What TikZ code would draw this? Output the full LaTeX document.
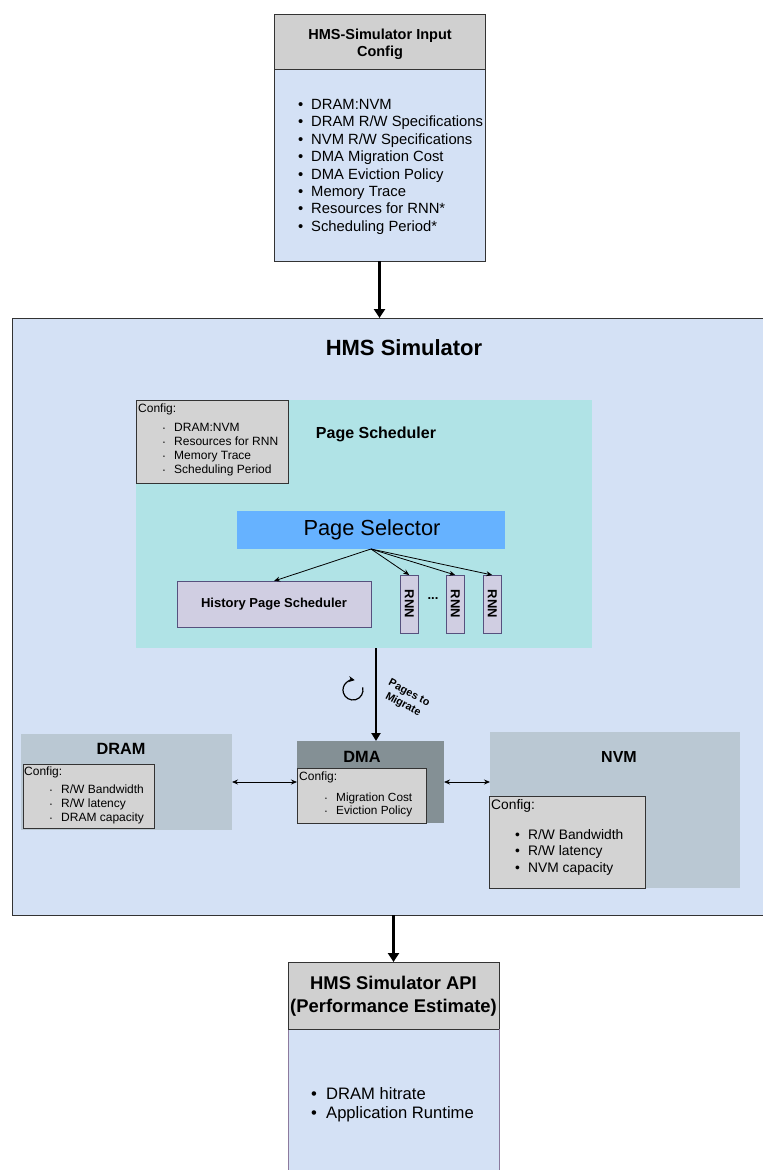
\documentclass[tikz,border=0pt]{standalone}
\usepackage{fontspec}
\setmainfont{Liberation Sans}
\usetikzlibrary{arrows.meta}

\definecolor{hdrgrey}{HTML}{D0D0D0}
\definecolor{cfggrey}{HTML}{D3D3D3}
\definecolor{bodyblue}{HTML}{D4E1F5}
\definecolor{schedteal}{HTML}{B0E3E6}
\definecolor{selblue}{HTML}{66B2FF}
\definecolor{memgrey}{HTML}{BAC8D3}
\definecolor{dmagrey}{HTML}{849095}
\definecolor{lilac}{HTML}{D0CEE2}
\definecolor{lilacedge}{HTML}{56517E}
\definecolor{apiedge}{HTML}{8C7A9E}
\definecolor{edgedark}{HTML}{333333}

% bullet helpers
\newcommand{\bigbul}[2][11pt]{\makebox[#1][l]{\textbullet}#2}
\newcommand{\tinybul}[1]{\makebox[11pt][l]{\raisebox{0.15ex}{\scalebox{0.45}{\textbullet}}}#1}

\begin{document}
\begin{tikzpicture}[x=1pt,y=-1pt,
  rect/.style={draw=edgedark, line width=0.8pt, anchor=north west, inner sep=0pt, outer sep=0pt},
  area/.style={draw=none, anchor=north west, inner sep=0pt, outer sep=0pt},
  linetxt/.style={anchor=base west, inner sep=0pt},
  heavyarrow/.style={line width=3pt, -{Triangle[length=9pt,width=11pt]}},
  midarrow/.style={line width=2pt, -{Triangle[length=8pt,width=9pt]}},
  thinarrow/.style={line width=0.8pt, -{Stealth[length=6pt,width=5pt]}},
  bothway/.style={line width=0.8pt, {Stealth[length=6pt,width=5pt]}-{Stealth[length=6pt,width=5pt]}}
]
\useasboundingbox (0,0) rectangle (763,1170);

% ---------- input configuration ----------
\node[rect, fill=hdrgrey, minimum width=211pt, minimum height=55pt] (inhdr) at (274,14) {};
\node[font=\bfseries\fontsize{14.5}{17}\selectfont, align=center] (inhdrtxt) at (380,44.5) {HMS-Simulator Input\\Config};
\node[rect, fill=bodyblue, minimum width=211pt, minimum height=192pt] (inbody) at (274,69) {};
\foreach \t [count=\i from 0] in {DRAM:NVM, DRAM R/W Specifications, NVM R/W Specifications,
    DMA Migration Cost, DMA Eviction Policy, Memory Trace, Resources for RNN*, Scheduling Period*}
  \node[linetxt, font=\fontsize{14.8}{17}\selectfont] (in-\i) at (298,109.3+17.43*\i) {\bigbul[13pt]{\t}};

% ---------- simulator ----------
\node[rect, fill=bodyblue, minimum width=752pt, minimum height=597pt] (sim) at (12,318) {};
\node[font=\bfseries\fontsize{22}{26}\selectfont] (simtxt) at (404,348) {HMS Simulator};
\draw[heavyarrow] (inbody.south) -- (sim.north -| inbody.south);

% page scheduler
\node[area, fill=schedteal, minimum width=456pt, minimum height=248pt] (sched) at (136,400) {};
\node[rect, fill=cfggrey, minimum width=152pt, minimum height=83pt] (schedcfg) at (136,400) {};
\node[linetxt, font=\fontsize{12}{14}\selectfont] (schedcfgtxt) at (138,412.3) {Config:};
\foreach \t [count=\i from 0] in {DRAM:NVM, Resources for RNN, Memory Trace, Scheduling Period}
  \node[linetxt, font=\fontsize{12}{14}\selectfont] (sc-\i) at (163,431.3+14*\i) {\tinybul{\t}};
\node[font=\bfseries\fontsize{16}{19}\selectfont] (schedtxt) at (376,434) {Page Scheduler};

\node[area, fill=selblue, minimum width=268pt, minimum height=38pt] (sel) at (237,511) {};
\node[font=\fontsize{21.8}{25}\selectfont] (seltxt) at (372,530) {Page Selector};

\node[rect, draw=lilacedge, fill=lilac, minimum width=194pt, minimum height=46pt] (hist) at (177,581) {};
\node[font=\bfseries\fontsize{13}{15}\selectfont] (histtxt) at (hist) {History Page Scheduler};

\node[rect, draw=lilacedge, fill=lilac, minimum width=18.5pt, minimum height=58pt] (rnna) at (400,575) {};
\node[rect, draw=lilacedge, fill=lilac, minimum width=18.5pt, minimum height=58pt] (rnnb) at (446,575) {};
\node[rect, draw=lilacedge, fill=lilac, minimum width=18.5pt, minimum height=58pt] (rnnc) at (483,575) {};
\foreach \r in {rnna,rnnb,rnnc}
  \node[rotate=-90, font=\bfseries\fontsize{13}{15}\selectfont] (\r-txt) at (\r) {RNN};
\node[font=\bfseries\fontsize{13}{15}\selectfont] (dots) at (433,599) {...};

\draw[thinarrow] (sel.south) -- (hist.north);
\draw[thinarrow] (sel.south) -- (rnna.north);
\draw[thinarrow] (sel.south) -- (rnnb.north);
\draw[thinarrow] (sel.south) -- (rnnc.north);

% memories and DMA
\node[area, fill=memgrey, minimum width=211pt, minimum height=96pt] (dram) at (21,734) {};
\node[font=\bfseries\fontsize{16.3}{19}\selectfont] (dramtxt) at (121,749) {DRAM};
\node[rect, fill=cfggrey, minimum width=131pt, minimum height=64pt] (dramcfg) at (23,764) {};
\node[linetxt, font=\fontsize{12}{14}\selectfont] (dramcfgtxt) at (24,775.3) {Config:};
\foreach \t [count=\i from 0] in {R/W Bandwidth, R/W latency, DRAM capacity}
  \node[linetxt, font=\fontsize{12}{14}\selectfont] (dc-\i) at (50,793.3+14*\i) {\tinybul{\t}};

\node[area, fill=dmagrey, minimum width=147pt, minimum height=82pt] (dma) at (297,741) {};
\node[font=\bfseries\fontsize{16.3}{19}\selectfont] (dmatxt) at (362,757) {DMA};
\node[rect, fill=cfggrey, minimum width=129pt, minimum height=55pt] (dmacfg) at (297,768) {};
\node[linetxt, font=\fontsize{12}{14}\selectfont] (dmacfgtxt) at (299,780.5) {Config:};
\foreach \t [count=\i from 0] in {Migration Cost, Eviction Policy}
  \node[linetxt, font=\fontsize{11.8}{14}\selectfont] (mc-\i) at (325,801.2+13.3*\i) {\tinybul{\t}};

\node[area, fill=memgrey, minimum width=250pt, minimum height=156pt] (nvm) at (490,732) {};
\node[font=\bfseries\fontsize{16}{19}\selectfont] (nvmtxt) at (619,757) {NVM};
\node[rect, fill=cfggrey, minimum width=156pt, minimum height=92pt] (nvmcfg) at (489,796) {};
\node[linetxt, font=\fontsize{13.8}{16}\selectfont] (nvmcfgtxt) at (491,809) {Config:};
\foreach \t [count=\i from 0] in {R/W Bandwidth, R/W latency, NVM capacity}
  \node[linetxt, font=\fontsize{13.8}{16}\selectfont] (nc-\i) at (515,839+16.5*\i) {\bigbul[13pt]{\t}};

\coordinate (migx) at (376,0);
\draw[midarrow] (sched.south -| migx) -- (dma.north -| migx);
\draw[line width=1.2pt, -{Stealth[length=6pt,width=6pt]}] (353,690) ++(15:10pt) arc[start angle=15, end angle=-280, radius=10pt];
\node[rotate=-28, align=center, font=\bfseries\fontsize{10.8}{13}\selectfont] (migtxt) at (406,699) {Pages to\\Migrate};

\draw[bothway] (dram.east) -- (dma.west);
\draw[bothway] (dma.east) -- (dma.east -| nvm.west);

% ---------- API output ----------
\node[rect, fill=hdrgrey, minimum width=211pt, minimum height=67pt] (apihdr) at (288,962) {};
\node[font=\bfseries\fontsize{18.4}{23}\selectfont, align=center] (apihdrtxt) at (393.5,996.5) {HMS Simulator API\\(Performance Estimate)};
\node[rect, draw=apiedge, fill=bodyblue, minimum width=211pt, minimum height=150pt] (apibody) at (288,1029) {};
\draw[edgedark, line width=0.8pt] (apihdr.south west) -- (apihdr.south east);
\foreach \t [count=\i from 0] in {DRAM hitrate, Application Runtime}
  \node[linetxt, font=\fontsize{16.6}{19}\selectfont] (ap-\i) at (311,1099+19*\i) {\bigbul[15pt]{\t}};
\draw[heavyarrow] (sim.south -| apihdr.north) -- (apihdr.north);
\end{tikzpicture}
\end{document}
